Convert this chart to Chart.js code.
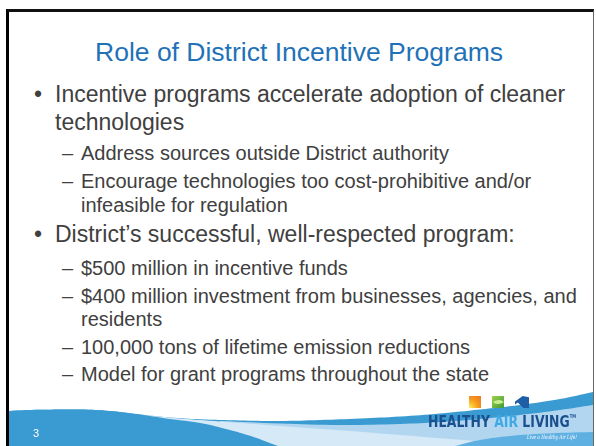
<!DOCTYPE html>
<html><head><meta charset="utf-8">
<script src="https://cdn.jsdelivr.net/npm/chart.js@4.4.1/dist/chart.umd.min.js"></script>
<style>
html,body{margin:0;padding:0;background:#fff;}
#slide{position:relative;width:596px;height:446px;overflow:hidden;background:#fff;font-family:"Liberation Sans",Arial,sans-serif;}
.t{position:absolute;white-space:nowrap;line-height:1;color:#404040;}
.l1{font-size:23px;}
.l2{font-size:20px;}
#frame{position:absolute;left:6px;top:9px;width:584px;height:440px;border-left:3px solid #000;border-top:3px solid #111;border-right:1px solid #666;}
#wave{position:absolute;left:9px;top:386px;width:584px;height:60px;}
</style></head>
<body>
<div id="slide">
  <canvas id="wave" width="584" height="60"></canvas>
  <div class="t" style="left:0;width:598px;top:38.5px;text-align:center;font-size:26.5px;color:#1f72b8;">Role of District Incentive Programs</div>

  <div class="t l1" style="left:34px;top:83px;">•</div>
  <div class="t l1" style="left:55px;top:83px;">Incentive programs accelerate adoption of cleaner</div>
  <div class="t l1" style="left:55px;top:110.5px;">technologies</div>
  <div class="t l2" style="left:62px;top:143px;">–</div>
  <div class="t l2" style="left:81px;top:143px;">Address sources outside District authority</div>
  <div class="t l2" style="left:62px;top:171px;">–</div>
  <div class="t l2" style="left:81px;top:171px;">Encourage technologies too cost-prohibitive and/or</div>
  <div class="t l2" style="left:81px;top:195px;">infeasible for regulation</div>

  <div class="t l1" style="left:34px;top:223px;">•</div>
  <div class="t l1" style="left:55px;top:223px;">District’s successful, well-respected program:</div>
  <div class="t l2" style="left:62px;top:258px;">–</div>
  <div class="t l2" style="left:81px;top:258px;">$500 million in incentive funds</div>
  <div class="t l2" style="left:62px;top:286px;">–</div>
  <div class="t l2" style="left:81px;top:286px;">$400 million investment from businesses, agencies, and</div>
  <div class="t l2" style="left:81px;top:309px;">residents</div>
  <div class="t l2" style="left:62px;top:337px;">–</div>
  <div class="t l2" style="left:81px;top:337px;">100,000 tons of lifetime emission reductions</div>
  <div class="t l2" style="left:62px;top:364px;">–</div>
  <div class="t l2" style="left:81px;top:364px;">Model for grant programs throughout the state</div>

  <div class="t" style="left:33px;top:428px;font-size:11px;color:#fff;">3</div>

  <div style="position:absolute;left:469px;top:396px;width:12px;height:12px;background:radial-gradient(circle at 0% 100%,#fff176 0,#fbc02d 30%,#f59a1f 55%,#ef7422 100%);"></div>
  <div style="position:absolute;left:492px;top:396px;width:12px;height:12px;background:linear-gradient(135deg,#9fd04a,#3f9a3c);overflow:hidden;">
    <div style="position:absolute;left:2px;top:3px;width:9px;height:6px;border-radius:0 100% 0 100%;background:#c9ec8c;transform:rotate(-30deg);"></div>
  </div>
  <div style="position:absolute;left:515px;top:396px;width:14px;height:12px;background:#1d5ea6;clip-path:polygon(0 45%,55% 0,100% 10%,100% 100%,60% 100%,20% 55%,0 70%);"></div>

  <div id="logo" class="t" style="left:428px;top:414px;font-family:'DejaVu Sans Condensed','DejaVu Sans',sans-serif;font-weight:bold;font-size:16.5px;color:#1b4f8e;transform-origin:0 0;">HEALTHY <span style="color:#3fa9e6">AIR</span> LIVING<span style="font-size:5px;vertical-align:top;">TM</span></div>
  <div id="tag" class="t" style="left:527px;top:434px;font-family:'DejaVu Serif',serif;font-style:italic;font-size:6px;color:#fff;transform-origin:0 0;">Live a Healthy Air Life!</div>

  <div id="frame"></div>
</div>
<script>
// Bottom wave bands: edge points (x px, y px)
const baseX = [9, 40, 80, 110, 140, 170, 200, 240, 280, 320, 360, 400, 440, 480, 520, 560, 593];
const baseY = [411, 409.8, 409.5, 411, 414.5, 417.5, 419.3, 420.5, 421, 420, 418.5, 416.5, 413.5, 409.5, 405, 399, 392];
const lightX = [220, 280, 340, 400, 440, 480, 520, 560, 593];
const lightY = [421, 423.5, 425, 424, 422, 419, 415, 410, 405];
const paleX = [140, 180, 220, 260, 300, 350, 400, 450, 500, 545];
const paleY = [414.8, 418.5, 421.5, 424.5, 427.5, 431, 435, 439, 443, 446];
const mediumX = [455, 480, 510, 545, 593];
const mediumY = [446, 440, 436, 433.5, 432];
const leftDarkX = [9, 40, 80, 110, 140, 170, 200, 230, 255, 278];
const leftDarkY = [411, 409.8, 409.5, 411, 414.5, 419, 423, 430, 437.5, 446];

function pts(xs, ys) { return xs.map((x, i) => ({ x: x, y: ys[i] })); }
function band(xs, ys, color, order) {
  return { data: pts(xs, ys), backgroundColor: color, borderColor: 'rgba(0,0,0,0)', borderWidth: 0,
           pointRadius: 0, fill: { value: 446 }, tension: 0.4, order: order };
}

function fitWidth(id, target) {
  const el = document.getElementById(id);
  const w = el.getBoundingClientRect().width;
  el.style.transform = 'scaleX(' + (target / w) + ')';
}
fitWidth('logo', 148);
fitWidth('tag', 50);

new Chart(document.getElementById('wave').getContext('2d'), {
  type: 'line',
  data: { datasets: [
    band(leftDarkX, leftDarkY, '#3a9bd2', 1),
    band(mediumX, mediumY, '#5fb0e2', 2),
    band(paleX, paleY, '#d6e9f7', 3),
    band(lightX, lightY, '#b2d6f0', 4),
    band(baseX, baseY, '#3a9bd2', 5)
  ] },
  options: {
    responsive: false, animation: false, events: [],
    layout: { padding: 0 },
    scales: {
      x: { type: 'linear', min: 9, max: 593, display: false },
      y: { type: 'linear', min: 386, max: 446, reverse: true, display: false }
    },
    plugins: { legend: { display: false }, tooltip: { enabled: false } }
  }
});
</script>
</body></html>
